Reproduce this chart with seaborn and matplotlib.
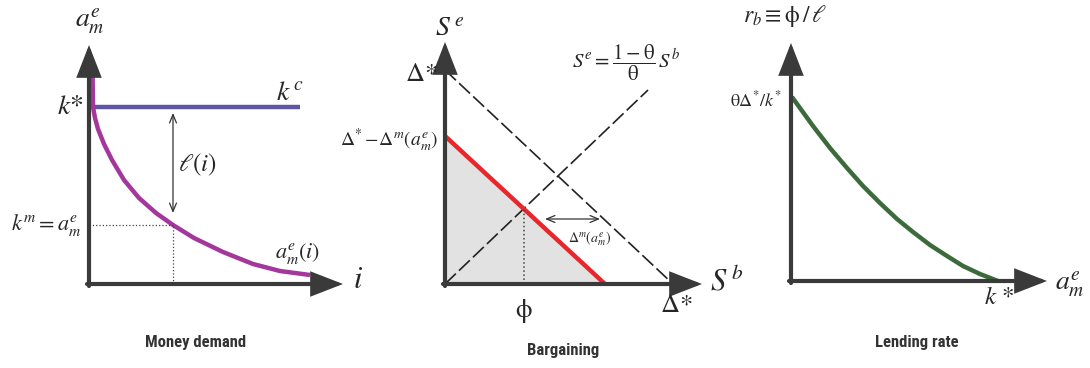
import matplotlib
matplotlib.use("Agg")
import matplotlib.pyplot as plt
import seaborn as sns

# ---------------------------------------------------------------
# values (pixel offsets from each origin)
# ---------------------------------------------------------------
# panel 1 : money demand a_m^e(i) and the k^c line
money_i = [3.5, 4, 6, 9, 15, 23, 35, 50, 67, 84, 105, 134, 164, 191, 221]
money_a = [216, 177, 166, 155, 140, 124, 104, 86, 71, 59, 46, 32, 20, 13, 9]
k_star = 177
kc_end = 211
i_mark = 84          # interest rate where k^m = a_m^e
km_level = 59

# panel 2 : bargaining
delta_star_y = 214
delta_star_x = 228
ray_end = [203, 194]        # S^e = (1-theta)/theta S^b
red_top = 148               # Delta* - Delta^m(a_m^e)
red_end = 160
phi_x, phi_y = 79, 75
gap_arrow = [100, 155]
gap_level = 65

# panel 3 : lending rate
lend_a = [1, 22, 39, 56, 72, 89, 106, 122, 139, 156, 172, 189, 207]
lend_r = [184, 155, 133, 113, 95, 78, 62, 49, 36, 25, 15, 7, 0]

AXIS_C = "#3a3a3a"
MAGENTA = "#a3379b"
PURPLE = "#5f55a5"
RED = "#e8262b"
GREEN = "#3b6b3a"
FILL = "#e2e2e2"

sns.set_theme(style="white")
plt.rcParams["mathtext.fontset"] = "stix"
plt.rcParams["font.family"] = ["STIXGeneral", "DejaVu Sans"]

fig = plt.figure(figsize=(10.9, 3.68), dpi=100)
W, H = 1090.0, 368.0


def make_axes(left, right, ox, oy):
    ax = fig.add_axes([left / W, 0, (right - left) / W, 1])
    ax.set_xlim(left - ox, right - ox)
    ax.set_ylim(oy - H, oy)
    ax.axis("off")
    return ax


def axis_arrows(ax, xtip, ytip):
    style = "-|>,head_length=1.8,head_width=0.7"
    for start, end in [((-2, 0), (xtip, 0)), ((0, -2), (0, ytip))]:
        ax.annotate("", xy=end, xytext=start, annotation_clip=False,
                    arrowprops=dict(arrowstyle=style, mutation_scale=10, lw=3,
                                    color=AXIS_C, shrinkA=0, shrinkB=0,
                                    joinstyle="miter"))


def double_arrow(ax, p0, p1):
    ax.annotate("", xy=p1, xytext=p0, annotation_clip=False,
                arrowprops=dict(arrowstyle="<->,head_length=0.6,head_width=0.25",
                                mutation_scale=10, lw=0.9, color="#333333",
                                shrinkA=0, shrinkB=0))


def caption(ax, x, y, s):
    ax.text(x, y, s, ha="center", va="center", fontsize=12, color="#333333",
            family=["Roboto Condensed", "Roboto", "DejaVu Sans"],
            fontweight="bold")


def curve(ax, xs, ys, color):
    sns.lineplot(x=xs, y=ys, ax=ax, sort=False, estimator=None, color=color,
                 linewidth=3.2, solid_joinstyle="round", solid_capstyle="butt")


# ---------------- panel 1 : Money demand ----------------
ax1 = make_axes(0, 360, 89, 284)
ax1.plot([-2, kc_end], [k_star, k_star], color=PURPLE, lw=3.2, solid_capstyle="butt")
curve(ax1, money_i, money_a, MAGENTA)
ax1.plot([0, i_mark], [km_level, km_level], ls=":", lw=0.9, color="#444444")
ax1.plot([i_mark, i_mark], [0, km_level], ls=":", lw=0.9, color="#444444")
double_arrow(ax1, (i_mark, 71), (i_mark, 171))
axis_arrows(ax1, 254, 239)

ax1.text(1, 262, r"$a_m^e$", ha="center", va="center", fontsize=20)
ax1.text(-6, k_star, r"$k$*", ha="right", va="center", fontsize=20)
ax1.text(201, 191, r"$k^{\,c}$", ha="center", va="center", fontsize=20)
ax1.text(108, 119, r"$\ell(i)$", ha="center", va="center", fontsize=18)
ax1.text(-7, km_level, r"$k^m = a_m^e$", ha="right", va="center", fontsize=16)
ax1.text(209, 31, r"$a_m^e(i)$", ha="center", va="center", fontsize=16)
ax1.text(269, 3, r"$i$", ha="center", va="center", fontsize=22)
caption(ax1, 107, -59, "Money demand")

# ---------------- panel 2 : Bargaining ----------------
ax2 = make_axes(360, 760, 445, 284)
ax2.fill_between([0, red_end], [red_top, 0], 0, color=FILL, lw=0)
ax2.plot([0, delta_star_x], [delta_star_y, 0], color="#222222", lw=1.2,
         dashes=(9, 2.6))
ax2.plot([0, ray_end[0]], [0, ray_end[1]], color="#222222", lw=1.2,
         dashes=(9, 2.6))
curve(ax2, [0, red_end], [red_top, 0], RED)
ax2.plot([phi_x, phi_x], [0, phi_y], ls=":", lw=1.1, color="#444444")
double_arrow(ax2, (gap_arrow[0], gap_level), (gap_arrow[1], gap_level))
axis_arrows(ax2, 257, 242)

ax2.text(5, 254, r"$S^{\,e}$", ha="center", va="center", fontsize=20)
ax2.text(-8, 209, r"$\Delta$*", ha="right", va="center", fontsize=19)
ax2.text(-7, 144, r"$\Delta^{\!*}\!-\!\Delta^m(a_m^e)$", ha="right",
         va="center", fontsize=14)
ax2.text(181, 221, r"$S^e = \dfrac{1-\mathrm{\theta}}{\mathrm{\theta}}\,S^b$",
         ha="center", va="center", fontsize=15)
ax2.text(145, 45, r"$\Delta^m(a_m^e)$", ha="center", va="center", fontsize=10)
ax2.text(phi_x, -27, r"$\mathrm{\phi}$", ha="center", va="center", fontsize=19)
ax2.text(231, -22, r"$\Delta$*", ha="center", va="center", fontsize=19)
ax2.text(282, 2, r"$S^{\,b}$", ha="center", va="center", fontsize=22)
caption(ax2, 118, -66, "Bargaining")

# ---------------- panel 3 : Lending rate ----------------
ax3 = make_axes(760, 1090, 791, 281)
curve(ax3, lend_a, lend_r, GREEN)
axis_arrows(ax3, 256, 238)

ax3.text(-6, 265, r"$r_b \equiv \mathrm{\phi}\,/\,\ell$", ha="center",
         va="center", fontsize=17)
ax3.text(-9, 181, r"$\mathrm{\theta}\Delta^{*}/k^{*}$", ha="right",
         va="center", fontsize=13)
ax3.text(208, -17, r"$k$ *", ha="center", va="center", fontsize=18)
ax3.text(279, -4, r"$a_m^e$", ha="center", va="center", fontsize=20)
caption(ax3, 126, -61, "Lending rate")

fig.savefig("out.png", dpi=100)
